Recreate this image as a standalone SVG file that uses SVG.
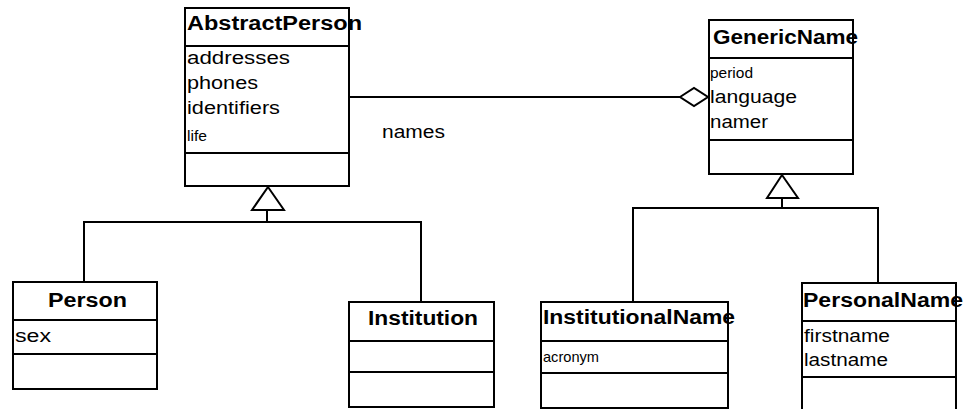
<svg xmlns="http://www.w3.org/2000/svg" width="964" height="409" viewBox="0 0 964 409">
<style>
.box{fill:#fff;stroke:#000;stroke-width:2}
.ln{fill:none;stroke:#000;stroke-width:2}
.t{font-family:"Liberation Sans",Arial,sans-serif;font-weight:bold;font-size:20px;fill:#000}
.a{font-family:"Liberation Sans",Arial,sans-serif;font-size:17.5px;fill:#000}
.s{font-family:"Liberation Sans",Arial,sans-serif;font-size:15px;fill:#000}
</style>
<rect width="964" height="409" fill="#fff"/>
<g id="connectors">
<line class="ln" x1="349" y1="97" x2="681" y2="97"/>
<polygon class="box" points="680,97 694,88 708,97 694,106"/>
<polygon class="box" points="268,187 284,210 252,210"/>
<polyline class="ln" points="267,210 267,222"/>
<polyline class="ln" points="84,282 84,222 421,222 421,302"/>
<polygon class="box" points="782,175 798,198 767,198"/>
<polyline class="ln" points="782,198 782,208"/>
<polyline class="ln" points="633,302 633,208 878,208 878,283"/>
<text class="a" x="382" y="138" textLength="63" lengthAdjust="spacingAndGlyphs">names</text>
</g>
<g id="AbstractPerson">
<rect class="box" x="185" y="8" width="164" height="178"/>
<line class="ln" x1="185" y1="46" x2="349" y2="46"/>
<line class="ln" x1="185" y1="153" x2="349" y2="153"/>
<text class="t" x="187" y="30" textLength="175" lengthAdjust="spacingAndGlyphs">AbstractPerson</text>
<text class="a" x="187" y="64" textLength="103" lengthAdjust="spacingAndGlyphs">addresses</text>
<text class="a" x="187" y="89" textLength="71" lengthAdjust="spacingAndGlyphs">phones</text>
<text class="a" x="187" y="114" textLength="93" lengthAdjust="spacingAndGlyphs">identifiers</text>
<text class="s" x="187" y="141" textLength="20" lengthAdjust="spacingAndGlyphs">life</text>
</g>
<g id="GenericName">
<rect class="box" x="709" y="20" width="144" height="154"/>
<line class="ln" x1="709" y1="58" x2="853" y2="58"/>
<line class="ln" x1="709" y1="140" x2="853" y2="140"/>
<text class="t" x="713" y="44" textLength="145" lengthAdjust="spacingAndGlyphs">GenericName</text>
<text class="s" x="710" y="78" textLength="43" lengthAdjust="spacingAndGlyphs">period</text>
<text class="a" x="710" y="103" textLength="87" lengthAdjust="spacingAndGlyphs">language</text>
<text class="a" x="710" y="128" textLength="58" lengthAdjust="spacingAndGlyphs">namer</text>
</g>
<g id="Person">
<rect class="box" x="13" y="282" width="144" height="107"/>
<line class="ln" x1="13" y1="320" x2="157" y2="320"/>
<line class="ln" x1="13" y1="354" x2="157" y2="354"/>
<text class="t" x="48" y="307" textLength="79" lengthAdjust="spacingAndGlyphs">Person</text>
<text class="a" x="15" y="342" textLength="36" lengthAdjust="spacingAndGlyphs">sex</text>
</g>
<g id="Institution">
<rect class="box" x="349" y="302" width="145" height="105"/>
<line class="ln" x1="349" y1="341" x2="494" y2="341"/>
<line class="ln" x1="349" y1="372" x2="494" y2="372"/>
<text class="t" x="368" y="325" textLength="110" lengthAdjust="spacingAndGlyphs">Institution</text>
</g>
<g id="InstitutionalName">
<rect class="box" x="541" y="302" width="187" height="106"/>
<line class="ln" x1="541" y1="341" x2="728" y2="341"/>
<line class="ln" x1="541" y1="373" x2="728" y2="373"/>
<text class="t" x="543" y="324" textLength="192" lengthAdjust="spacingAndGlyphs">InstitutionalName</text>
<text class="s" x="543" y="362" textLength="56" lengthAdjust="spacingAndGlyphs">acronym</text>
</g>
<g id="PersonalName">
<rect class="box" x="802" y="283" width="154" height="140"/>
<line class="ln" x1="802" y1="321" x2="956" y2="321"/>
<line class="ln" x1="802" y1="377" x2="956" y2="377"/>
<text class="t" x="803" y="307" textLength="160" lengthAdjust="spacingAndGlyphs">PersonalName</text>
<text class="a" x="804" y="342" textLength="86" lengthAdjust="spacingAndGlyphs">firstname</text>
<text class="a" x="804" y="366" textLength="84" lengthAdjust="spacingAndGlyphs">lastname</text>
</g>
</svg>
